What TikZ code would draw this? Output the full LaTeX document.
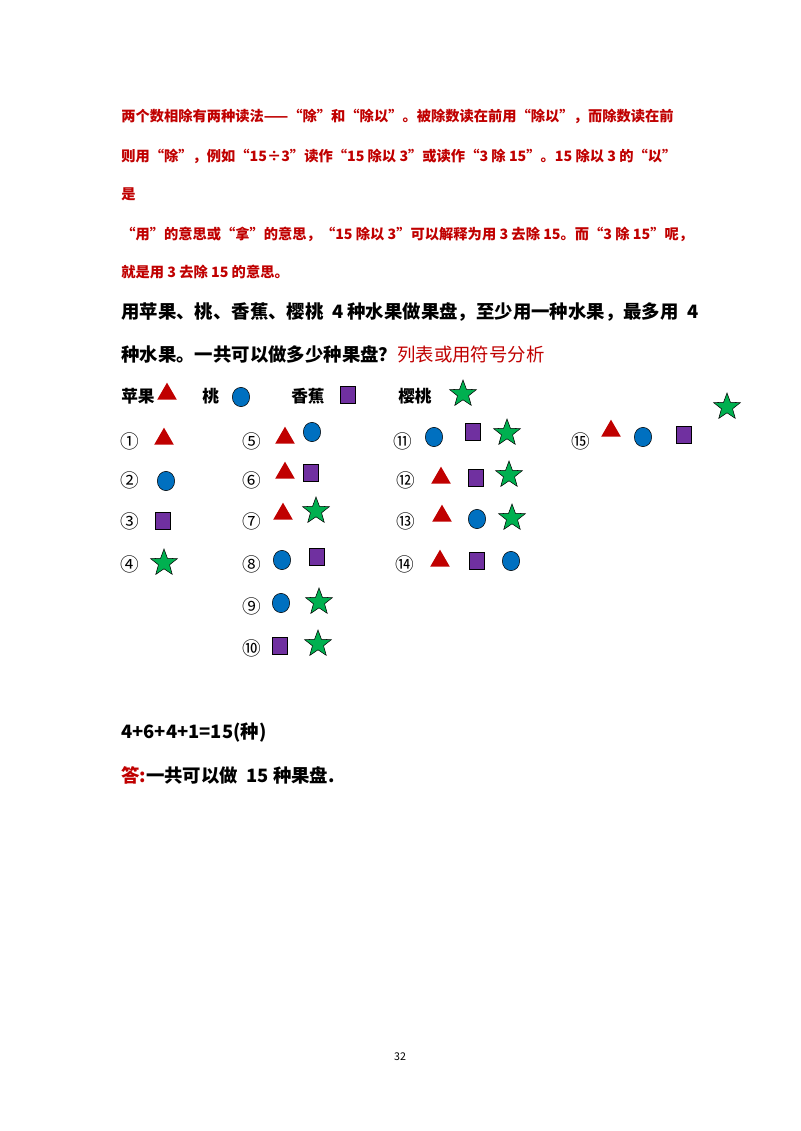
\documentclass[tikz,border=0pt]{standalone}
\usepackage{fontspec}
\setmainfont{Noto Sans CJK SC}
\usetikzlibrary{shapes.geometric}
\definecolor{myred}{HTML}{C00000}
\definecolor{myblue}{HTML}{0070C0}
\definecolor{mypurple}{HTML}{7030A0}
\definecolor{mygreen}{HTML}{00B050}
\tikzset{
 tri/.style={regular polygon,regular polygon sides=3,fill=myred,inner sep=0pt,minimum size=17pt},
 circ/.style={ellipse,draw=black,line width=0.4pt,fill=myblue,minimum width=13pt,minimum height=14.5pt,inner sep=0pt},
 sq/.style={rectangle,draw=black,line width=0.4pt,fill=mypurple,minimum width=11.5pt,minimum height=12.5pt,inner sep=0pt},
 st/.style={star,star points=5,star point ratio=2.4,draw=black,line width=0.4pt,fill=mygreen,minimum size=21pt,inner sep=0pt},
 num/.style={font=\fontsize{14}{14}\selectfont,inner sep=0pt},
 redt/.style={anchor=west,inner sep=0pt,text=myred,font=\fontsize{10.7}{12}\selectfont\bfseries},
 blkt/.style={anchor=west,inner sep=0pt,font=\fontsize{13.8}{15}\selectfont\bfseries},
 leg/.style={anchor=west,inner sep=0pt,font=\fontsize{12.5}{14}\selectfont\bfseries}
}
\begin{document}
\begin{tikzpicture}[x=0.75pt,y=-0.75pt]
\useasboundingbox[fill=white] (0,0) rectangle (800,1131);
\node[redt] (r1) at (121,116) {两个数相除有两种读法——“除”和“除以”。被除数读在前用“除以”，而除数读在前};
\node[redt] (r2) at (121,156) {则用“除”，例如“15÷3”读作“15 除以 3”或读作“3 除 15”。15 除以 3 的“以”};
\node[redt] (r3) at (121,194) {是};
\node[redt] (r4) at (121,234) {“用”的意思或“拿”的意思，“15 除以 3”可以解释为用 3 去除 15。而“3 除 15”呢，};
\node[redt] (r5) at (121,272) {就是用 3 去除 15 的意思。};
\node[blkt] (b1) at (121,312) {用苹果、桃、香蕉、樱桃 \ 4 种水果做果盘，至少用一种水果，最多用 \ 4};
\node[blkt] (b2) at (121,354) {种水果。一共可以做多少种果盘？\textcolor{myred}{\mdseries 列表或用符号分析}};
% legend
\node[leg] (l1) at (121,396) {苹果};
\node[tri] (lt) at (167,394) {};
\node[leg] (l2) at (202,396) {桃};
\node[circ] (lc) at (241,397) {};
\node[leg] (l3) at (291,396) {香蕉};
\node[sq] (ls) at (348,395) {};
\node[leg] (l4) at (398,396) {樱桃};
\node[st] (lst) at (463,394) {};
\node[st] (xst) at (727,407) {};
% column 1
\node[num] (n1) at (130,441) {①}; \node[tri] (a1) at (164,439) {};
\node[num] (n2) at (130,480) {②}; \node[circ] (a2) at (166,481) {};
\node[num] (n3) at (130,521) {③}; \node[sq] (a3) at (163,521) {};
\node[num] (n4) at (130,564) {④}; \node[st] (a4) at (164,563) {};
% column 2
\node[num] (n5) at (252,441) {⑤}; \node[tri] (a5) at (285,438) {}; \node[circ] (b5) at (312,432) {};
\node[num] (n6) at (252,480) {⑥}; \node[tri] (a6) at (285,473) {}; \node[sq] (b6) at (311,473) {};
\node[num] (n7) at (252,521) {⑦}; \node[tri] (a7) at (283,514) {}; \node[st] (b7) at (316,511) {};
\node[num] (n8) at (252,564) {⑧}; \node[circ] (a8) at (282,560) {}; \node[sq] (b8) at (317,557) {};
\node[num] (n9) at (252,606) {⑨}; \node[circ] (a9) at (281,603) {}; \node[st] (b9) at (319,602) {};
\node[num] (n10) at (252,648) {⑩}; \node[sq] (a10) at (280,646) {}; \node[st] (b10) at (318,644) {};
% column 3
\node[num] (n11) at (403,441) {⑪}; \node[circ] (a11) at (434,437) {}; \node[sq] (b11) at (473,432) {}; \node[st] (c11) at (507,433) {};
\node[num] (n12) at (406,480) {⑫}; \node[tri] (a12) at (441,478) {}; \node[sq] (b12) at (476,478) {}; \node[st] (c12) at (509,475) {};
\node[num] (n13) at (406,521) {⑬}; \node[tri] (a13) at (442,516) {}; \node[circ] (b13) at (477,519) {}; \node[st] (c13) at (512,518) {};
\node[num] (n14) at (405,564) {⑭}; \node[tri] (a14) at (440,561) {}; \node[sq] (b14) at (477,561) {}; \node[circ] (c14) at (511,561) {};
% column 4
\node[num] (n15) at (581,441) {⑮}; \node[tri] (a15) at (611,431) {}; \node[circ] (b15) at (643,437) {}; \node[sq] (c15) at (684,435) {};
% result
\node[blkt] (eq) at (121,733) {4+6+4+1=15(种)};
\node[blkt] (ans) at (121,775) {\textcolor{myred}{答:}一共可以做 \ 15 种果盘.};
\node[inner sep=0pt,font=\fontsize{8}{9}\selectfont] (pg) at (400,1057) {32};
\end{tikzpicture}
\end{document}
